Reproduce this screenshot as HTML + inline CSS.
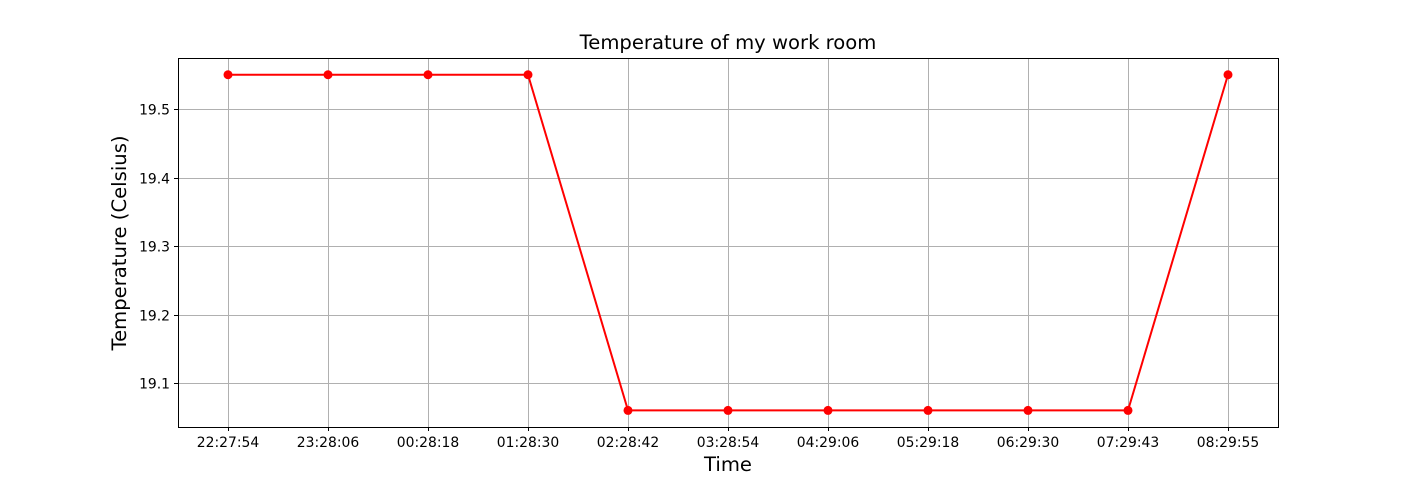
<!DOCTYPE html>
<html><head><meta charset="utf-8"><style>
html,body{margin:0;padding:0;background:#fff;}
svg{display:block;font-family:"DejaVu Sans","Liberation Sans",sans-serif;}
</style></head><body>
<svg id="chart" width="1420" height="480">
<rect x="0" y="0" width="1420" height="480" fill="#fff"/>
<g id="grid"></g>
<g id="ticks"></g>
<g id="series"></g>
<rect x="178.5" y="58.5" width="1100" height="369" fill="none" stroke="#000" stroke-width="1"/>
<text x="728" y="49" text-anchor="middle" font-size="19.6">Temperature of my work room</text>
<text x="728" y="471" text-anchor="middle" font-size="19.6">Time</text>
<text x="126" y="243" text-anchor="middle" font-size="19.6" transform="rotate(-90 126 243)">Temperature (Celsius)</text>
</svg>
<script>
const categories = ["22:27:54","23:28:06","00:28:18","01:28:30","02:28:42","03:28:54","04:29:06","05:29:18","06:29:30","07:29:43","08:29:55"];
const temps = [19.55,19.55,19.55,19.55,19.06,19.06,19.06,19.06,19.06,19.06,19.55];
const yTicks = [19.1,19.2,19.3,19.4,19.5];
const yTickLabels = ["19.1","19.2","19.3","19.4","19.5"];
const NS="http://www.w3.org/2000/svg";
function xPos(i){return 228+i*100;}
function yPos(v){return 383-(v-19.1)*685;}
function mk(tag,attrs,parent){const e=document.createElementNS(NS,tag);for(const k in attrs)e.setAttribute(k,attrs[k]);parent.appendChild(e);return e;}
const grid=document.getElementById('grid'),ticks=document.getElementById('ticks'),series=document.getElementById('series');
categories.forEach((c,i)=>{
  const x=xPos(i)+0.5;
  const g=mk('line',{x1:x,x2:x,y1:58,y2:427,stroke:'#b0b0b0','stroke-width':1},grid);
  
  
  const t=mk('line',{x1:x,x2:x,y1:427,y2:431,stroke:'#000'},ticks);
  
  
  const l=mk('text',{x:xPos(i),y:447,'text-anchor':'middle','font-size':13.9},ticks);
  l.textContent=c;
  
  
});
yTicks.forEach((v,i)=>{
  const y=Math.round(yPos(v))+0.5;
  const g=mk('line',{x1:178,x2:1278,y1:y,y2:y,stroke:'#b0b0b0','stroke-width':1},grid);
  
  
  const t=mk('line',{x1:174,x2:178,y1:y,y2:y,stroke:'#000'},ticks);
  
  
  const l=mk('text',{x:170,y:y+5,'text-anchor':'end','font-size':13.9},ticks);
  l.textContent=yTickLabels[i];
  
  
});
const pts=temps.map((v,i)=>xPos(i)+','+yPos(v)).join(' ');
const line=mk('polyline',{points:pts,fill:'none',stroke:'#ff0000','stroke-width':2},series);


temps.forEach((v,i)=>{
  const c=mk('circle',{cx:xPos(i),cy:yPos(v),r:4.5,fill:'#ff0000'},series);
  
  
});
</script>
</body></html>
